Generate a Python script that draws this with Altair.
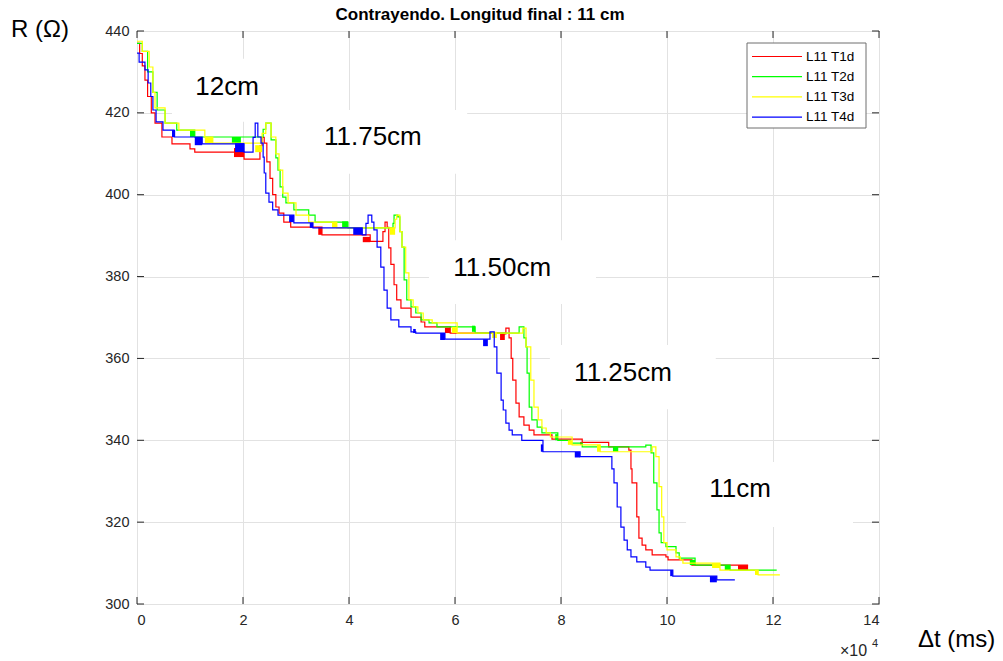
import altair as alt
import pandas as pd

# ---------------- data (x in units of 1e4 ms, R in ohm) ----------------
series_names = ["L11 T1d", "L11 T2d", "L11 T3d", "L11 T4d"]
series_colors = ["#ff0000", "#00ff00", "#ffff00", "#0000ff"]

t_red = [0, 0.05, 0.10, 0.15, 0.20, 0.27, 0.34, 0.47, 0.66, 1.00, 1.09, 2.02, 2.32, 2.36, 2.40,
         2.45, 2.51, 2.56, 2.62, 2.68, 2.77, 2.90, 3.49, 4.40, 4.64, 4.68, 4.72, 4.75, 4.79, 4.85,
         4.90, 4.98, 5.17, 5.36, 5.43, 5.91, 6.94, 6.96, 7.02, 7.06, 7.09, 7.15, 7.21, 7.30, 7.40,
         7.49, 7.83, 8.40, 8.90, 9.28, 9.32, 9.34, 9.43, 9.47, 9.53, 9.60, 9.72, 9.98, 10.02, 10.47,
         11.53]
r_red = [437, 434.5, 431.5, 428, 424, 420, 417.5, 414.1, 412.4, 411.2, 410.4, 408.7, 412, 414, 412.6,
         408, 404, 400, 397, 395.5, 393.3, 392.1, 390.2, 388.6, 391, 393.3, 392, 387, 383, 378,
         374.3, 372.3, 370.1, 368.9, 367.7, 366.2, 366, 367.4, 365, 360, 354.7, 349.1, 345.7, 343.7, 342.5,
         341.3, 340.3, 339.5, 338.4, 337.6, 333, 329.6, 321.3, 316.1, 314.4, 313.2, 312, 311.5, 310.8, 309.5,
         309.5]

t_green = [0, 0.10, 0.20, 0.30, 0.38, 0.53, 0.75, 1.09, 2.38, 2.43, 2.53, 2.62, 2.66, 2.70, 2.75,
           2.81, 2.96, 3.24, 3.36, 3.98, 4.83, 4.85, 4.92, 4.96, 5.00, 5.04, 5.09, 5.17, 5.26, 5.36,
           5.51, 5.66, 6.38, 7.21, 7.30, 7.34, 7.36, 7.40, 7.45, 7.55, 7.64, 7.94, 8.17, 8.40, 9.60,
           9.70, 9.75, 9.81, 9.85, 9.89, 9.98, 10.17, 10.23, 10.53, 11.19, 12.07]
r_green = [437, 435, 430, 425, 420.7, 417.5, 415.8, 414.1, 416, 417.5, 413.4, 409, 406, 401.9, 399.4,
           398, 396.3, 395, 393.3, 391.9, 393, 395, 394.6, 391, 387.2, 379.2, 374.3, 372.6, 371.1, 369.4,
           368.7, 367.7, 366.2, 367.7, 365, 362.8, 356.4, 348.1, 345, 343.2, 341.8, 340, 339.3, 338.4, 338.8,
           336.9, 329.6, 323, 317.4, 315, 314, 312.5, 311.2, 309.5, 308.3, 308.3]

t_yellow = [0, 0.10, 0.23, 0.30, 0.34, 0.53, 0.79, 1.28, 1.43, 2.36, 2.43, 2.53, 2.62, 2.68, 2.75,
            2.85, 3.00, 3.24, 3.77, 4.87, 4.90, 4.96, 5.00, 5.07, 5.13, 5.21, 5.30, 5.40, 5.57, 6.04,
            7.28, 7.34, 7.43, 7.49, 7.57, 7.64, 7.72, 7.80, 8.21, 8.74, 9.72, 9.79, 9.85, 9.90, 9.94,
            10.00, 10.17, 10.25, 10.30, 11.00, 11.72, 12.13]
r_yellow = [437.5, 435, 431.2, 425, 421.2, 417.5, 415.8, 414.1, 412.6, 415, 417.5, 414.1, 410, 406, 400.4,
            398, 395, 393.3, 391.9, 394, 395, 391, 387.2, 380.9, 374.3, 372.6, 371.1, 369.4, 368.7, 366.2,
            367.4, 362.8, 354.7, 348.1, 345, 343, 341.8, 340.8, 338.9, 337.2, 338.4, 336, 328.7, 321.3, 315,
            313.2, 311.5, 310.8, 310, 308.3, 307.1, 307.1]

t_blue = [0, 0.04, 0.15, 0.21, 0.26, 0.30, 0.36, 0.49, 0.70, 1.23, 2.02, 2.19, 2.23, 2.28, 2.34,
          2.38, 2.40, 2.43, 2.49, 2.56, 2.66, 2.96, 3.32, 4.25, 4.32, 4.36, 4.43, 4.47, 4.53, 4.60,
          4.66, 4.72, 4.79, 4.94, 5.17, 5.26, 5.81, 6.66, 6.74, 6.79, 6.87, 6.91, 6.96, 7.02, 7.08,
          7.26, 7.66, 8.36, 8.96, 9.00, 9.06, 9.13, 9.19, 9.25, 9.32, 9.43, 9.60, 9.68, 10.11, 10.94,
          11.28]
r_blue = [434.6, 432.4, 430.5, 427.3, 424, 420.7, 417.8, 415.8, 414.1, 412.4, 410.4, 414, 417.5, 414.1, 412.6,
          409.2, 405.3, 400.4, 398.2, 396.3, 395, 393.1, 391.9, 390.2, 393, 395, 393.3, 391.4, 387.2, 382.3,
          376.7, 372.3, 369.4, 367.7, 366.5, 366.2, 364.7, 366.5, 362.8, 356.4, 349.8, 347.4, 344.2, 342.5, 341.3,
          340, 337.2, 336, 333, 329.6, 323.7, 318.8, 315.6, 313.2, 311.5, 310.3, 309, 308.3, 306.8, 305.9,
          305.9]

# dense toggling stretches, drawn as filled blocks: (t0, t1, r0, r1)
blocks_red = [(1.83, 2.02, 409.2, 411.4), (3.42, 3.49, 390.2, 392.1), (4.26, 4.40, 388.4, 389.7),
              (5.81, 5.91, 366.2, 367.5), (6.85, 6.94, 364.5, 366.2), (8.36, 8.40, 338.9, 339.6),
              (11.34, 11.53, 308.3, 309.5)]
blocks_green = [(1.00, 1.09, 414.1, 415.8), (1.79, 1.96, 412.6, 414.1), (3.87, 3.98, 391.9, 393.5),
                (6.32, 6.38, 366.5, 368.0), (7.89, 7.94, 340.0, 341.5), (8.98, 9.08, 337.2, 338.4),
                (10.43, 10.53, 309.5, 310.8), (11.09, 11.19, 308.3, 309.5)]
blocks_yellow = [(1.28, 1.43, 412.6, 414.1), (2.23, 2.36, 410.4, 412.1), (3.68, 3.77, 391.9, 393.3),
                 (4.77, 4.87, 390.2, 391.9), (5.94, 6.04, 366.2, 367.7), (6.70, 6.79, 365.0, 366.5),
                 (8.13, 8.21, 338.9, 340.0), (8.68, 8.74, 337.2, 338.9), (10.85, 11.00, 308.8, 310.0),
                 (11.66, 11.72, 307.1, 308.3)]
blocks_blue = [(0.66, 0.72, 414.1, 415.8), (1.09, 1.23, 412.1, 414.1), (1.85, 2.02, 410.4, 412.6),
               (2.87, 2.96, 393.3, 395.0), (3.26, 3.32, 391.9, 393.1), (4.08, 4.25, 390.2, 391.9),
               (5.21, 5.26, 366.2, 367.2), (5.72, 5.81, 364.5, 366.2), (6.53, 6.62, 363.0, 364.7),
               (7.62, 7.66, 337.2, 339.0), (8.26, 8.36, 335.8, 337.2), (10.06, 10.11, 306.8, 308.3),
               (10.81, 10.94, 305.3, 306.8)]

# annotations
ann_text = ["12cm", "11.75cm", "11.50cm", "11.25cm", "11cm"]
ann_t = [1.70, 4.45, 6.89, 9.17, 11.38]
ann_r = [426.3, 414.0, 382.1, 356.4, 328.1]
box_t0 = [0.66, 3.06, 5.51, 7.79, 10.36]
box_t1 = [3.11, 6.23, 8.66, 10.92, 13.51]
box_r0 = [417.8, 405.1, 373.3, 347.6, 318.8]
box_r1 = [433.2, 420.7, 388.9, 363.3, 334.7]

x_ticks = [0, 2, 4, 6, 8, 10, 12, 14]
y_ticks = [300, 320, 340, 360, 380, 400, 420, 440]

# ---------------- chart ----------------
W, H = 742, 573
FONT = "Liberation Sans"
AX = "#262626"

xs = alt.Scale(domain=[0, 14], nice=False, zero=False)
ys = alt.Scale(domain=[300, 440], nice=False, zero=False)
xaxis = alt.Axis(values=x_ticks, tickSize=0, labelPadding=9, grid=True, gridColor="#e2e2e2",
                 gridWidth=1, domain=False, title=None, labelFontSize=14.5, labelColor=AX,
                 labelFont=FONT, format="d")
yaxis = alt.Axis(values=y_ticks, tickSize=0, labelPadding=8, grid=True, gridColor="#e2e2e2",
                 gridWidth=1, domain=False, title=None, labelFontSize=14.5, labelColor=AX,
                 labelFont=FONT, format="d")


def X(f):
    return alt.X(f"{f}:Q", scale=xs, axis=xaxis)


def Y(f):
    return alt.Y(f"{f}:Q", scale=ys, axis=yaxis)


one = pd.DataFrame({"a": [0]})

boxes_df = pd.DataFrame({"t0": box_t0, "t1": box_t1, "r0": box_r0, "r1": box_r1})
boxes = alt.Chart(boxes_df).mark_rect(fill="white", stroke=None).encode(
    x=X("t0"), x2="t1", y=Y("r0"), y2="r1")

layers = [boxes]
all_series = [(t_red, r_red, blocks_red), (t_green, r_green, blocks_green),
              (t_yellow, r_yellow, blocks_yellow), (t_blue, r_blue, blocks_blue)]
for name, color, (ts, rs, bl) in zip(series_names, series_colors, all_series):
    bdf = pd.DataFrame(bl, columns=["t0", "t1", "r0", "r1"])
    layers.append(alt.Chart(bdf).mark_rect(color=color).encode(
        x=X("t0"), x2="t1", y=Y("r0"), y2="r1"))
    ldf = pd.DataFrame({"t": ts, "r": rs})
    layers.append(alt.Chart(ldf).mark_line(color=color, strokeWidth=1.2,
                                           interpolate="step-after").encode(
        x=X("t"), y=Y("r")))

ann_df = pd.DataFrame({"t": ann_t, "r": ann_r, "txt": ann_text})
layers.append(alt.Chart(ann_df).mark_text(font=FONT, fontSize=26, color="black",
                                          align="center", baseline="middle").encode(
    x=X("t"), y=Y("r"), text="txt:N"))

# inward ticks on all four sides
xt_df = pd.DataFrame({"v": x_ticks})
yt_df = pd.DataFrame({"v": y_ticks})
layers.append(alt.Chart(xt_df).mark_rule(color=AX, strokeWidth=1).encode(
    x=X("v"), y=alt.value(H), y2=alt.value(H - 7)))
layers.append(alt.Chart(xt_df).mark_rule(color=AX, strokeWidth=1).encode(
    x=X("v"), y=alt.value(0), y2=alt.value(7)))
layers.append(alt.Chart(yt_df).mark_rule(color=AX, strokeWidth=1).encode(
    y=Y("v"), x=alt.value(0), x2=alt.value(7)))
layers.append(alt.Chart(yt_df).mark_rule(color=AX, strokeWidth=1).encode(
    y=Y("v"), x=alt.value(W), x2=alt.value(W - 7)))

# legend (manual, MATLAB style)
LX0, LX1, LY0, LY1 = 610, 729, 12, 97
layers.append(alt.Chart(one).mark_rect(fill="white", stroke="#6e6e6e", strokeWidth=1).encode(
    x=alt.value(LX0), x2=alt.value(LX1), y=alt.value(LY0), y2=alt.value(LY1)))
for i, (name, color) in enumerate(zip(series_names, series_colors)):
    yy = 25.5 + 20.2 * i
    layers.append(alt.Chart(one).mark_rule(color=color, strokeWidth=1.2).encode(
        x=alt.value(615), x2=alt.value(665), y=alt.value(yy)))
    layers.append(alt.Chart(one).mark_text(text=name, font=FONT, fontSize=13.5, color="black",
                                           align="left", baseline="middle").encode(
        x=alt.value(669), y=alt.value(yy)))

# titles and labels
layers.append(alt.Chart(one).mark_text(text="Contrayendo. Longitud final : 11 cm", font=FONT,
                                       fontSize=17, fontWeight="bold", color="black",
                                       align="center", baseline="middle").encode(
    x=alt.value(343), y=alt.value(-16)))
layers.append(alt.Chart(one).mark_text(text="R (Ω)", font=FONT, fontSize=24, color="black",
                                       align="left", baseline="middle").encode(
    x=alt.value(-126), y=alt.value(-1)))
layers.append(alt.Chart(one).mark_text(text="Δt (ms)", font=FONT, fontSize=24, color="black",
                                       align="left", baseline="middle").encode(
    x=alt.value(781), y=alt.value(609)))
layers.append(alt.Chart(one).mark_text(text="×10", font=FONT, fontSize=16, color=AX,
                                       align="left", baseline="middle").encode(
    x=alt.value(703), y=alt.value(620)))
layers.append(alt.Chart(one).mark_text(text="4", font=FONT, fontSize=11, color=AX,
                                       align="left", baseline="middle").encode(
    x=alt.value(735), y=alt.value(613)))

chart = alt.layer(*layers).properties(
    width=W, height=H,
    autosize=alt.AutoSizeParams(type="none"),
    padding={"left": 137, "top": 31, "right": 124, "bottom": 57},
    background="white",
).configure_view(stroke=AX, strokeWidth=1)

chart.save("out.html", embed_options={"renderer": "svg", "actions": False})
